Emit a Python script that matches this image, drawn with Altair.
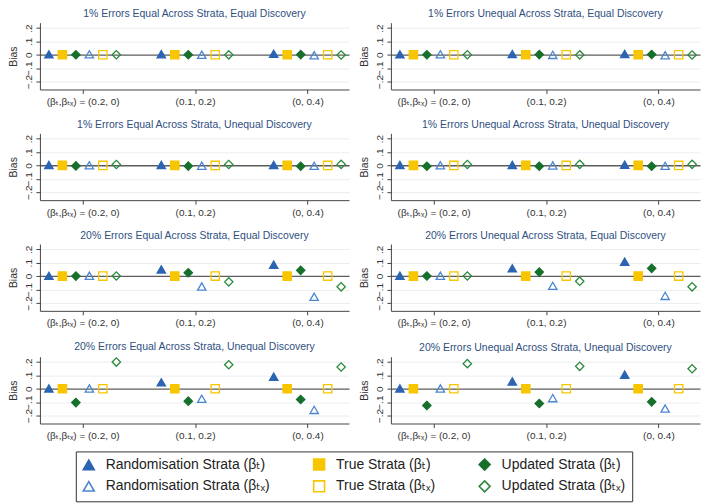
import json
import altair as alt
import pandas as pd

panel_titles = [
    "1% Errors Equal Across Strata, Equal Discovery",
    "1% Errors Unequal Across Strata, Equal Discovery",
    "1% Errors Equal Across Strata, Unequal Discovery",
    "1% Errors Unequal Across Strata, Unequal Discovery",
    "20% Errors Equal Across Strata, Equal Discovery",
    "20% Errors Unequal Across Strata, Equal Discovery",
    "20% Errors Equal Across Strata, Unequal Discovery",
    "20% Errors Unequal Across Strata, Unequal Discovery",
]
group_labels = ["(βₜ,βₜₓ) = (0.2, 0)", "(0.1, 0.2)", "(0, 0.4)"]
series_names = [
    "Randomisation Strata (βₜ)",
    "True Strata (βₜ)",
    "Updated Strata (βₜ)",
    "Randomisation Strata (βₜₓ)",
    "True Strata (βₜₓ)",
    "Updated Strata (βₜₓ)",
]
y_ticks = [-0.2, -0.1, 0, 0.1, 0.2]

# bias values: one triple (3 scenarios) per panel
rand_bt = [[0.003, 0.004, 0.007], [0.003, 0.005, 0.006], [0.003, 0.004, 0.004], [0.003, 0.004, 0.005],
           [0.002, 0.05, 0.085], [0.003, 0.058, 0.108], [0.003, 0.048, 0.09], [0.003, 0.055, 0.105]]
true_bt = [[0.0, 0.0, 0.0]] * 8
upd_bt = [[0.0, 0.0, 0.001], [0.0, 0.001, 0.002], [-0.004, -0.005, -0.006], [-0.006, -0.006, -0.006],
          [0.0, 0.025, 0.043], [0.001, 0.03, 0.058], [-0.103, -0.093, -0.08], [-0.125, -0.11, -0.098]]
rand_btx = [[0.003, 0.0, -0.004], [0.003, -0.001, -0.004], [0.001, -0.002, -0.003], [0.001, 0.0, -0.003],
            [0.003, -0.078, -0.155], [0.003, -0.073, -0.148], [0.002, -0.075, -0.158], [0.002, -0.07, -0.148]]
true_btx = [[0.0, 0.0, 0.0]] * 8
upd_btx = [[0.0, -0.001, -0.002], [0.0, -0.001, -0.002], [0.007, 0.007, 0.008], [0.007, 0.008, 0.008],
           [0.001, -0.043, -0.08], [0.001, -0.038, -0.08], [0.2, 0.18, 0.163], [0.188, 0.168, 0.15]]

series_values = [rand_bt, true_bt, upd_bt, rand_btx, true_btx, upd_btx]

shapes = ["triangle-up", "square", "diamond", "triangle-up", "square", "diamond"]
strokes = ["#2a64b2", "#f7c600", "#16702c", "#4a86cf", "#f7c600", "#2b8a3c"]
fills = ["#2a64b2", "#f7c600", "#16702c", "transparent", "transparent", "transparent"]

# legend is filled column by column: order the scale domain so rows read βT / βTX
legend_order = [0, 3, 1, 4, 2, 5]
dom = [series_names[k] for k in legend_order]
shape_rng = [shapes[k] for k in legend_order]
stroke_rng = [strokes[k] for k in legend_order]
fill_rng = [fills[k] for k in legend_order]

rows = []
for p in range(len(panel_titles)):
    for g in range(len(group_labels)):
        for s, name in enumerate(series_names):
            rows.append({
                "panel": p,
                "gi": g + 1,
                "si": s,
                "series": name,
                "bias": series_values[s][p][g],
            })
df = pd.DataFrame(rows)

FONT = "Liberation Sans, Arial, DejaVu Sans, sans-serif"
label_expr = json.dumps(group_labels, ensure_ascii=False) + "[datum.value - 1]"

legend = alt.Legend(
    title=None, orient="none", legendX=36, legendY=430, columns=3,
    labelFontSize=14, labelFont=FONT, labelColor="#222", symbolSize=120,
    symbolStrokeWidth=1.6, strokeColor="#333", fillColor="white",
    padding=6, rowPadding=4, columnPadding=40, labelOffset=10,
    labelLimit=300,
)


def panel(i):
    d = df[df.panel == i]
    return (
        alt.Chart(d)
        .transform_calculate(xpos="datum.gi + (datum.si - 2.5) * 0.12")
        .mark_point(size=70, opacity=1, fillOpacity=1, strokeWidth=1.3)
        .encode(
            x=alt.X(
                "xpos:Q",
                scale=alt.Scale(domain=[0.62, 3.37], nice=False, zero=False),
                axis=alt.Axis(
                    values=[1, 2, 3], labelExpr=label_expr, title=None, grid=False,
                    tickSize=4, labelPadding=3, labelFontSize=10, labelFont=FONT,
                    labelColor="#333", domainColor="#444", tickColor="#444",
                ),
            ),
            y=alt.Y(
                "bias:Q",
                scale=alt.Scale(domain=[-0.26, 0.24], nice=False, zero=False),
                axis=alt.Axis(
                    values=y_ticks, title="Bias",
                    labelExpr="datum.value == 0 ? '0' : replace(format(datum.value, '.1f'), '0.', '.')",
                    labelAngle=270, labelAlign="center", labelBaseline="bottom",
                    labelOverlap=False, labelBound=False,
                    tickSize=4, labelPadding=2, labelFontSize=10, labelFont=FONT,
                    labelColor="#333", titleFont=FONT, titleFontSize=10.5,
                    titleFontWeight="normal", titleColor="#333", titlePadding=3,
                    minExtent=18, maxExtent=18, domainColor="#444", tickColor="#444",
                    gridColor={"condition": {"test": "datum.value === 0", "value": "#5c5c5c"}, "value": "#e3e9ec"},
                    gridWidth={"condition": {"test": "datum.value === 0", "value": 1.3}, "value": 0.8},
                ),
            ),
            shape=alt.Shape("series:N", scale=alt.Scale(domain=dom, range=shape_rng), legend=legend),
            stroke=alt.Stroke("series:N", scale=alt.Scale(domain=dom, range=stroke_rng), legend=legend),
            fill=alt.Fill("series:N", scale=alt.Scale(domain=dom, range=fill_rng), legend=legend),
        )
        .properties(
            width=310, height=67,
            title=alt.TitleParams(
                panel_titles[i], fontSize=10.5, font=FONT, color="#2f4f7f",
                fontWeight="normal", offset=3, anchor="middle", frame="group",
            ),
        )
    )


chart = (
    alt.vconcat(
        *[alt.hconcat(panel(2 * r), panel(2 * r + 1), spacing=9) for r in range(4)],
        spacing=12,
    )
    .properties(padding=0, background="white")
    .configure_view(stroke="transparent")
)

chart.save("out.html", embed_options={"renderer": "svg", "actions": False})
